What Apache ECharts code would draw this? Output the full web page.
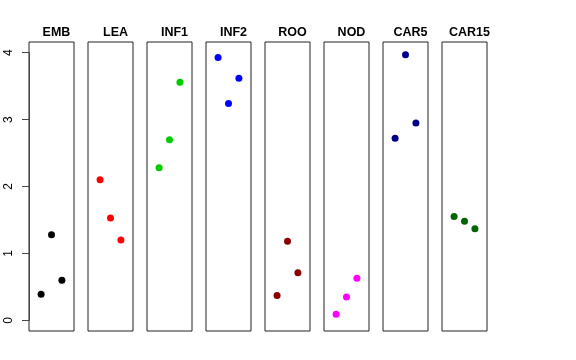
<!DOCTYPE html>
<html><head><meta charset="utf-8">
<script src="https://cdn.jsdelivr.net/npm/echarts@6/dist/echarts.min.js"></script>
<style>html,body{margin:0;padding:0;background:#fff}#c{width:576px;height:360px}</style>
</head><body><div id="c"></div>
<script>
const categories = ["EMB","LEA","INF1","INF2","ROO","NOD","CAR5","CAR15"];
const colors = ["#000000","#FF0000","#00CD00","#0000FF","#8B0000","#FF00FF","#00008B","#006400"];
const EMB = [0.39, 1.28, 0.60];
const LEA = [2.10, 1.53, 1.20];
const INF1 = [2.28, 2.70, 3.56];
const INF2 = [3.93, 3.24, 3.62];
const ROO = [0.37, 1.18, 0.71];
const NOD = [0.09, 0.35, 0.63];
const CAR5 = [2.72, 3.97, 2.95];
const CAR15 = [1.55, 1.48, 1.37];
const seriesValues = [EMB, LEA, INF1, INF2, ROO, NOD, CAR5, CAR15];
const yTicks = [0, 1, 2, 3, 4];

const chart = echarts.init(document.getElementById('c'), null, {renderer:'canvas'});
const panelLeft = 29, panelStep = 59, panelW = 45, panelTop = 42, panelH = 289;
const yMin = -0.16, yMax = 4.16, xMin = -0.16, xMax = 4.16;
const pxPerUnit = panelH / (yMax - yMin);
const grids = [], xAxes = [], yAxes = [], series = [], titles = [];
categories.forEach((cat, i) => {
  const left = panelLeft + panelStep * i;
  grids.push({left: left, top: panelTop, width: panelW, height: panelH, show: true, borderColor: '#222', borderWidth: 1, backgroundColor: 'transparent'});
  xAxes.push({gridIndex: i, type: 'value', min: xMin, max: xMax, show: false});
  yAxes.push({gridIndex: i, type: 'value', min: yMin, max: yMax, show: false});
  series.push({type: 'scatter', xAxisIndex: i, yAxisIndex: i, symbol: 'circle', symbolSize: 7,
    itemStyle: {color: colors[i], opacity: 1}, silent: true, animation: false,
    data: seriesValues[i].map((v, k) => [k + 1, v])});
  titles.push({text: cat, left: left + panelW / 2, top: 21, textAlign: 'center',
    textStyle: {fontFamily: 'Liberation Sans, Arial, sans-serif', fontWeight: 'bold', fontSize: 12.5, color: '#000'}});
});
// axis grid
const axTop = panelTop + panelH - (yTicks[yTicks.length-1] - yMin) * pxPerUnit;
const axH = (yTicks[yTicks.length-1] - yTicks[0]) * pxPerUnit;
grids.push({left: panelLeft, top: axTop, width: panelW, height: axH, show: false});
xAxes.push({gridIndex: 8, type: 'value', min: 0, max: 1, show: false});
yAxes.push({gridIndex: 8, type: 'value', min: yTicks[0], max: yTicks[yTicks.length-1], interval: 1,
  axisLine: {show: true, lineStyle: {color: '#444', width: 1}},
  axisTick: {show: true, length: 7, lineStyle: {color: '#444'}},
  splitLine: {show: false},
  axisLabel: {rotate: 90, margin: 14, fontFamily: 'Liberation Sans, Arial, sans-serif', fontSize: 12, color: '#000'}});

chart.setOption({
  animation: false,
  backgroundColor: '#fff',
  title: titles,
  grid: grids,
  xAxis: xAxes,
  yAxis: yAxes,
  series: series
});
</script></body></html>
